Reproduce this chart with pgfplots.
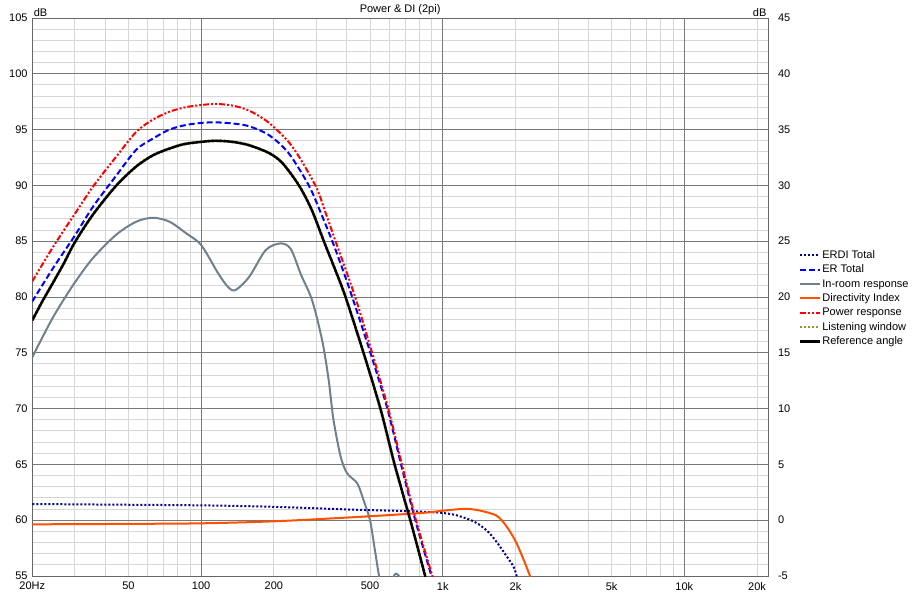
\documentclass[border=0pt]{standalone}
\usepackage{pgfplots}
\usepackage{pgfplotstable}
\pgfplotsset{compat=1.18}
\usepackage{fontspec}
\setmainfont{Liberation Sans}

\definecolor{erdi}{RGB}{0,0,150}
\definecolor{er}{RGB}{0,0,255}
\definecolor{inroom}{RGB}{112,128,144}
\definecolor{di}{RGB}{255,80,0}
\definecolor{pwr}{RGB}{255,0,0}
\definecolor{lw}{RGB}{150,150,40}
\definecolor{majgrid}{RGB}{120,120,120}
\definecolor{mingrid}{RGB}{215,215,215}

% ERDI Total (right axis, dB)
\pgfplotstableread{
f db
20 1.45
40 1.4
100 1.33
200 1.2
420 0.95
700 0.82
900 0.72
1000 0.65
1126 0.47
1278 0.09
1408 -0.36
1552 -1.1
1698 -2.15
1834 -3.2
1968 -4.2
2038 -5.2
2200 -7
}\erdi
% Directivity index (right axis, dB)
\pgfplotstableread{
f db
20 -0.37
50 -0.33
100 -0.28
200 -0.1
420 0.26
700 0.55
873 0.7
1000 0.85
1198 1.01
1300 1.0
1450 0.83
1650 0.47
1754 0.0
1870 -0.8
2000 -1.86
2130 -3.2
2270 -4.7
2400 -6.2
}\dind
% ER Total
\pgfplotstableread{
f db
20 79.6
24.4 82.6
29.8 85.4
35.7 88.1
44.6 90.9
53.9 93.2
63.2 94.2
73.9 95.0
86 95.4
100 95.6
115 95.65
135 95.55
158 95.3
191 94.5
230 92.9
279 90.0
312 87.6
349 85.0
385 82.5
422 80.0
502 75.0
590 70.0
672 65.0
770 60.0
898 55.0
1000 51.5
}\ert
% Power response
\pgfplotstableread{
f db
20 81.4
24.4 84.5
29.8 87.35
35.7 89.9
44.6 92.6
53.9 94.8
63.2 95.9
73.9 96.6
86 97.0
100 97.2
115 97.3
135 97.15
158 96.7
191 95.6
238 93.5
297 90.0
328 87.5
360 85.0
434 80.0
510 75.0
595 70.0
678 65.0
775 60.0
906 55.0
1000 52.0
}\pwr
% In-room response
\pgfplotstableread{
f db
20 74.6
24.4 78.2
29.8 81.2
35.7 83.5
44.6 85.6
53.9 86.75
63.2 87.1
73.9 86.75
86.8 85.7
100 84.66
117 82.2
128 81.0
138 80.6
158 81.8
185 84.2
213 84.8
235 84.3
259 82.0
288 79.7
317 76.1
337 72.6
353 69.0
378 65.7
402 64.2
443 63.3
470 61.8
500 60.0
524 57.3
545 55.0
570 52.8
605 54.2
638 55.2
670 54.6
700 52.0
}\inroom
% Reference angle
\pgfplotstableread{
f db
20 77.9
22 79.6
24.4 81.3
27 83.0
30 84.9
35.7 87.4
44.6 90.0
53.9 91.7
63.2 92.7
73.9 93.3
85 93.7
100 93.9
115 94.0
135 93.9
158 93.6
191 92.9
217 92.0
254 90.0
287 87.8
322 85.0
358 82.5
396 80.0
470 75.0
552 70.0
632 65.0
734 60.0
846 55.0
1000 49.0
}\refang
% Listening window
\pgfplotstableread{
f db
20 77.9
22 79.6
24.4 81.3
27 83.0
30 84.9
35.7 87.4
44.6 90.0
53.9 91.7
63.2 92.7
73.9 93.3
85 93.7
100 93.9
115 94.0
135 93.9
158 93.6
191 92.9
217 92.0
254 90.0
287 87.8
322 85.0
358 82.5
396 80.0
470 75.0
552 70.0
632 65.0
734 60.0
846 55.0
1000 49.0
}\lwin

\begin{document}
\begin{tikzpicture}[font=\fontsize{8.25}{10}\selectfont]
\useasboundingbox (0,0) rectangle (690pt,444.75pt);
\begin{axis}[
  at={(24.2pt,12.75pt)}, anchor=south west,
  scale only axis, width=551.8pt, height=418.5pt,
  xmode=log, xmin=20, xmax=22200, ymin=55, ymax=105,
  xtick={20,50,100,200,500,1000,2000,5000,10000,20000},
  xticklabels={20Hz,50,100,200,500,1k,2k,5k,10k,20k},
  minor xtick={30,40,50,60,70,80,90,200,300,400,500,600,700,800,900,2000,3000,4000,5000,6000,7000,8000,9000,20000},
  xmajorgrids=false, xminorgrids=true,
  extra x ticks={100,1000,10000}, extra x tick labels={},
  extra x tick style={grid=major},
  ytick={55,60,...,105}, minor y tick num=4,
  ymajorgrids=true, yminorgrids=true,
  major grid style={draw=majgrid, line width=0.75pt},
  minor grid style={draw=mingrid, line width=0.75pt},
  major tick length=0pt, minor tick length=0pt,
  axis line style={draw=black!60, line width=0.75pt},
  tick label style={font=\fontsize{8.25}{10}\selectfont},
  /pgf/number format/assume math mode=true,
  xticklabel style={yshift=-1pt},
  legend style={at={(1.041,0.588)}, anchor=north west, draw=none, fill=none,
    font=\fontsize{8.25}{10}\selectfont, row sep=0pt, inner sep=0pt,
    nodes={inner sep=0.75pt, text height=7pt, text depth=2.25pt}},
  legend cell align=left,
  legend image code/.code={\draw[#1] (0pt,0pt) -- (15pt,0pt);},
  clip=true,
  every axis plot/.append style={smooth, tension=0.5},
]
\addplot[erdi, line width=1.5pt, dash pattern=on 1.5pt off 1.5pt] table[x=f, y expr=\thisrow{db}+60] {\erdi};
\addlegendentry{ERDI Total}
\addplot[er, line width=1.5pt, dash pattern=on 4.5pt off 2.25pt] table[x=f, y=db] {\ert};
\addlegendentry{ER Total}
\addplot[inroom, line width=1.5pt] table[x=f, y=db] {\inroom};
\addlegendentry{In-room response}
\addplot[di, line width=1.5pt] table[x=f, y expr=\thisrow{db}+60] {\dind};
\addlegendentry{Directivity Index}
\addplot[pwr, line width=1.5pt, dash pattern=on 4.5pt off 1.5pt on 1.5pt off 1.5pt on 1.5pt off 1.5pt] table[x=f, y=db] {\pwr};
\addlegendentry{Power response}
\addplot[lw, line width=2.2pt, dash pattern=on 1.5pt off 1.5pt] table[x=f, y=db] {\lwin};
\addlegendentry{Listening window}
\addplot[black, line width=1.8pt] table[x=f, y=db] {\refang};
\addlegendentry{Reference angle}
\end{axis}
\begin{axis}[
  at={(24.2pt,12.75pt)}, anchor=south west,
  scale only axis, width=551.8pt, height=418.5pt,
  xmode=log, xmin=20, xmax=22200, ymin=-5, ymax=45,
  axis y line*=right, axis x line=none,
  ytick={-5,0,...,45},
  major tick length=0pt, minor tick length=0pt,
  axis line style={draw=black!60, line width=0.75pt},
  tick label style={font=\fontsize{8.25}{10}\selectfont},
  /pgf/number format/assume math mode=true,
  yticklabel style={xshift=4pt},
  clip=false,
]
\node[anchor=south east, inner sep=1pt] at (rel axis cs:1,1) {dB};
\node[anchor=south west, inner sep=1pt] at (rel axis cs:0,1) {dB};
\node[anchor=south, inner sep=2pt] at (rel axis cs:0.5,1) {Power \& DI (2pi)};
\end{axis}
\end{tikzpicture}
\end{document}
